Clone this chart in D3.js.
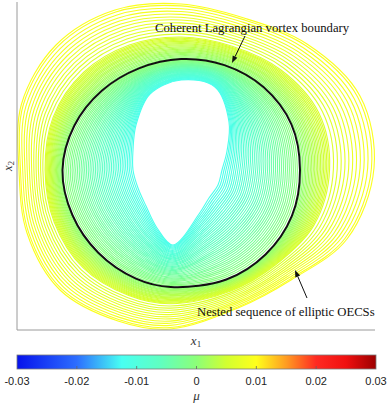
<!DOCTYPE html>
<html>
<head>
<meta charset="utf-8">
<script src="https://cdn.jsdelivr.net/npm/d3@7"></script>
<style>
  body { margin: 0; background: #fff; }
  svg { display: block; }
</style>
</head>
<body>
<svg id="chart" width="390" height="406"></svg>
<script>
// Key contours of the vortex family in (x1, x2) units, sampled on the same 16 rays
const innerShape = [
  [2.05, 1.60], [2.10, 1.79], [2.12, 2.08], [1.98, 2.43],
  [1.64, 2.50], [1.33, 2.36], [1.19, 2.05], [1.16, 1.80],
  [1.16, 1.60], [1.21, 1.42], [1.29, 1.24], [1.40, 1.02],
  [1.56, 0.85], [1.82, 1.16], [1.92, 1.32], [2.01, 1.45]
];
const boundaryShape = [
  [2.83, 1.60], [2.744, 2.057], [2.467, 2.427], [2.074, 2.649],
  [1.64, 2.71], [1.219, 2.616], [0.848, 2.392], [0.573, 2.042],
  [0.455, 1.60], [0.554, 1.15], [0.813, 0.773], [1.19, 0.514],
  [1.538, 0.43], [2.093, 0.505], [2.485, 0.755], [2.749, 1.141]
];
const outerShape = [
  [3.57, 1.62], [3.43, 2.34], [2.90, 2.86], [2.27, 3.12],
  [1.64, 3.26], [0.98, 3.20], [0.39, 2.85], [0.045, 2.26],
  [0.02, 1.60], [0.10, 0.97], [0.43, 0.40], [1.01, 0.09],
  [1.53, 0.01], [2.21, 0.22], [2.74, 0.50], [3.30, 0.91]
];

// mu of the key contours and their place in the inner -> boundary -> outer blend
const keyMu = [-0.0118, 0, 0.006, 0.0095];
const keyBlend = [0, 1, 1.4, 2];
const boundaryMu = 0;

// mu of each elliptic OECS drawn
const muInside = [
  -0.0118, -0.0115, -0.0112, -0.0109, -0.0106, -0.0103, -0.0100, -0.0097,
  -0.0094, -0.0091, -0.0088, -0.0085, -0.0082, -0.0079, -0.0076, -0.0073,
  -0.0070, -0.0067, -0.0064, -0.0061, -0.0058, -0.0055, -0.0052, -0.0049,
  -0.0046, -0.0043, -0.0040, -0.0037, -0.0034, -0.0031, -0.0028, -0.0025,
  -0.0022, -0.0019, -0.0016, -0.0013, -0.0010, -0.0007, -0.0004
];
const muOutside = [
  0.0003, 0.0006, 0.0009, 0.0012, 0.0015, 0.0018, 0.0021, 0.0024,
  0.0027, 0.0030, 0.0033, 0.0036, 0.0039, 0.0042, 0.0045, 0.0048,
  0.0051, 0.0054, 0.0057, 0.0060, 0.0063, 0.0066, 0.0069, 0.0072,
  0.0075, 0.0078, 0.0081, 0.0084, 0.0087, 0.0090, 0.0093, 0.0095
];

// colour map
const cmapMu = [-0.03, -0.02, -0.0125, -0.006, 0, 0.005, 0.01, 0.015, 0.02, 0.025, 0.03];
const cmapColors = ["#0612ec", "#2d6eff", "#48fff2", "#60ffc0", "#8cff78", "#d2ff30",
  "#ffff1c", "#ff9c22", "#ff2a22", "#f01010", "#9c0000"];
const cbarTicks = [-0.03, -0.02, -0.01, 0, 0.01, 0.02, 0.03];

const svg = d3.select("#chart");

const plot = { left: 17, right: 375, top: 2, bottom: 330 };

const x = d3.scaleLinear().domain([0, 3.58]).range([plot.left, plot.right]);
const y = d3.scaleLinear().domain([0, 3.28]).range([plot.bottom, plot.top]);

const color = d3.scaleLinear().domain(cmapMu).range(cmapColors).interpolate(d3.interpolateRgb);
const blend = d3.scaleLinear().domain(keyMu).range(keyBlend).clamp(true);

function contourFor(mu) {
  const b = blend(mu);
  const [a, c, t] = b <= 1 ? [innerShape, boundaryShape, b] : [boundaryShape, outerShape, b - 1];
  return a.map((p, i) => [p[0] + (c[i][0] - p[0]) * t, p[1] + (c[i][1] - p[1]) * t]);
}

const line = d3.line()
  .x((d) => x(d[0]))
  .y((d) => y(d[1]))
  .curve(d3.curveCatmullRomClosed.alpha(0.5));

// nested OECS family
svg.append("g")
  .selectAll("path")
  .data(muInside.concat(muOutside))
  .enter()
  .append("path")
  .attr("d", (d) => line(contourFor(d)))
  .attr("fill", "none")
  .attr("stroke", (d) => color(d))
  .attr("stroke-width", 1.1);

// coherent vortex boundary
svg.append("path")
  .attr("d", line(contourFor(boundaryMu)))
  .attr("fill", "none")
  .attr("stroke", "#111")
  .attr("stroke-width", 2);

// axis lines (no ticks)
svg.append("line")
  .attr("x1", plot.left).attr("x2", plot.left)
  .attr("y1", plot.top).attr("y2", plot.bottom)
  .attr("stroke", "#9a9a9a").attr("stroke-width", 1);
svg.append("line")
  .attr("x1", plot.left).attr("x2", plot.right)
  .attr("y1", plot.bottom).attr("y2", plot.bottom)
  .attr("stroke", "#9a9a9a").attr("stroke-width", 1);

// axis labels
const xl = svg.append("text")
  .attr("x", (plot.left + plot.right) / 2)
  .attr("y", 345)
  .attr("text-anchor", "middle")
  .attr("font-family", "Liberation Serif, serif")
  .attr("font-size", 13)
  .attr("fill", "#333");
xl.append("tspan").attr("font-style", "italic").text("x");
xl.append("tspan").attr("font-size", 9).attr("dy", 2).text("1");

const yl = svg.append("text")
  .attr("transform", `translate(12, ${(plot.top + plot.bottom) / 2}) rotate(-90)`)
  .attr("text-anchor", "middle")
  .attr("font-family", "Liberation Serif, serif")
  .attr("font-size", 12.5)
  .attr("fill", "#333");
yl.append("tspan").attr("font-style", "italic").text("x");
yl.append("tspan").attr("font-size", 8.5).attr("dy", 2).text("2");

// annotations
function arrow(x0, y0, x1, y1) {
  const ang = Math.atan2(y1 - y0, x1 - x0);
  const len = 7, half = 2.6;
  const bx = x1 - len * Math.cos(ang), by = y1 - len * Math.sin(ang);
  svg.append("line")
    .attr("x1", x0).attr("y1", y0).attr("x2", bx).attr("y2", by)
    .attr("stroke", "#111").attr("stroke-width", 1);
  svg.append("path")
    .attr("d", `M${x1},${y1}L${bx + half * Math.sin(ang)},${by - half * Math.cos(ang)}L${bx - half * Math.sin(ang)},${by + half * Math.cos(ang)}Z`)
    .attr("fill", "#111");
}

svg.append("text")
  .attr("x", 155).attr("y", 32)
  .attr("font-family", "Liberation Serif, Times New Roman, serif")
  .attr("font-size", 12.7)
  .attr("fill", "#111")
  .text("Coherent Lagrangian vortex boundary");
arrow(245, 36, 232, 63);

svg.append("text")
  .attr("x", 197).attr("y", 316)
  .attr("font-family", "Liberation Serif, Times New Roman, serif")
  .attr("font-size", 12.7)
  .attr("fill", "#111")
  .text("Nested sequence of elliptic OECSs");
arrow(307, 298, 295, 270);

// colorbar
const cb = { left: 17, right: 376, top: 355, bottom: 369 };
const cx = d3.scaleLinear().domain([-0.03, 0.03]).range([cb.left, cb.right]);

const grad = svg.append("defs").append("linearGradient")
  .attr("id", "cmap")
  .attr("x1", "0%").attr("x2", "100%").attr("y1", "0%").attr("y2", "0%");
grad.selectAll("stop")
  .data(cmapMu)
  .enter()
  .append("stop")
  .attr("offset", (d) => `${((d + 0.03) / 0.06) * 100}%`)
  .attr("stop-color", (d) => color(d));

svg.append("rect")
  .attr("x", cb.left).attr("y", cb.top)
  .attr("width", cb.right - cb.left).attr("height", cb.bottom - cb.top)
  .attr("fill", "url(#cmap)")
  .attr("stroke", "#7a7a7a").attr("stroke-width", 0.8);

svg.append("g")
  .selectAll("line")
  .data(cbarTicks.slice(1, -1))
  .enter()
  .append("line")
  .attr("x1", (d) => cx(d)).attr("x2", (d) => cx(d))
  .attr("y1", cb.bottom).attr("y2", cb.bottom - 3)
  .attr("stroke", "#666").attr("stroke-width", 0.8);

svg.append("g")
  .selectAll("text")
  .data(cbarTicks)
  .enter()
  .append("text")
  .attr("x", (d) => cx(d))
  .attr("y", 385)
  .attr("text-anchor", "middle")
  .attr("font-family", "Liberation Sans, Arial, sans-serif")
  .attr("font-size", 11)
  .attr("fill", "#222")
  .text((d) => (d === 0 ? "0" : d.toFixed(2)));

svg.append("text")
  .attr("x", (cb.left + cb.right) / 2)
  .attr("y", 400)
  .attr("text-anchor", "middle")
  .attr("font-family", "Liberation Serif, serif")
  .attr("font-style", "italic")
  .attr("font-size", 13)
  .attr("fill", "#333")
  .text("μ");
</script>
</body>
</html>
